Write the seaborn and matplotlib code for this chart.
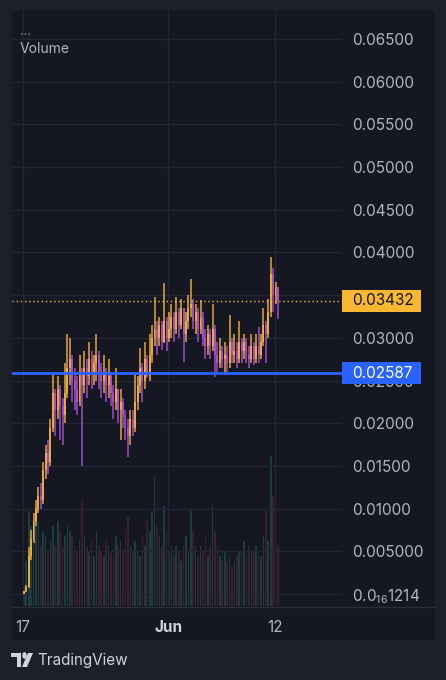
import numpy as np
import pandas as pd
import matplotlib
matplotlib.use("Agg")
import matplotlib.pyplot as plt
import matplotlib.dates as mdates
from matplotlib.patches import Rectangle, Polygon, Circle
from matplotlib.ticker import FixedLocator, FixedFormatter
import seaborn as sns

# 6h candles, prices in units of 0.001
close = [0.3, 0.8, 4.5, 6.5, 8.5, 10.0, 11.5, 11.0, 14.5, 16.5,
         15.5, 19.5, 23.5, 21.5, 24.0, 22.0, 21.0, 23.5, 26.5, 27.5,
         25.0, 24.0, 22.5, 26.0, 24.5, 26.5, 25.5, 27.5, 26.0, 27.0,
         28.0, 26.0, 25.0, 26.0, 24.5, 25.5, 23.5, 22.5, 24.0, 21.5,
         22.5, 21.0, 19.5, 18.5, 20.5, 19.5, 22.5, 24.5, 26.5, 25.0,
         27.5, 25.5, 28.0, 30.0, 31.0, 30.0, 31.5, 29.5, 32.0, 30.0,
         31.0, 32.5, 31.0, 33.0, 31.5, 33.5, 30.5, 32.0, 33.5, 34.0,
         32.0, 33.0, 31.0, 32.5, 30.0, 29.0, 30.5, 29.0, 31.0, 28.0,
         27.0, 28.5, 27.5, 28.0, 27.0, 29.5, 28.0, 28.5, 27.5, 29.5,
         28.5, 29.5, 28.0, 27.5, 29.0, 27.5, 29.0, 28.0, 29.5, 31.5,
         30.5, 33.0, 37.5, 35.0, 36.0, 34.32]
high = [0.4, 1.0, 5.5, 7.5, 9.5, 11.0, 12.5, 13.0, 15.5, 17.5,
        18.0, 20.5, 26.0, 24.0, 25.5, 24.5, 23.0, 27.0, 30.5, 30.0,
        28.0, 26.5, 25.5, 28.0, 26.5, 28.5, 27.5, 29.5, 28.5, 28.0,
        30.5, 28.5, 27.0, 28.0, 26.5, 27.5, 26.0, 24.5, 26.5, 24.0,
        24.0, 23.0, 21.5, 20.5, 21.5, 21.5, 26.0, 25.5, 28.8, 27.0,
        29.5, 28.0, 30.5, 31.5, 34.8, 32.0, 32.5, 32.0, 36.4, 32.5,
        33.0, 34.0, 33.0, 34.8, 33.5, 34.5, 33.5, 33.0, 35.0, 36.9,
        34.5, 34.0, 33.5, 34.4, 33.0, 31.0, 31.5, 31.0, 34.0, 31.5,
        29.5, 30.0, 29.0, 29.5, 29.0, 32.7, 30.0, 30.5, 29.5, 32.0,
        30.0, 30.5, 30.0, 29.0, 30.5, 29.5, 30.5, 31.3, 30.5, 33.5,
        32.0, 34.5, 39.5, 38.2, 36.5, 35.7]
low = [0.0, 0.2, 0.7, 4.0, 6.0, 8.0, 9.5, 10.0, 10.5, 13.5,
       14.0, 15.0, 19.0, 18.5, 20.5, 18.0, 17.5, 20.0, 23.0, 24.5,
       22.5, 21.5, 21.0, 22.0, 15.0, 23.5, 23.0, 24.5, 24.0, 24.5,
       25.0, 24.0, 23.0, 23.5, 22.5, 23.0, 22.0, 20.5, 21.5, 20.0,
       18.0, 19.5, 18.0, 16.0, 17.5, 18.5, 19.0, 21.5, 23.5, 22.5,
       24.0, 25.3, 25.0, 27.0, 29.0, 28.0, 29.0, 28.6, 29.4, 28.5,
       29.5, 30.0, 29.5, 30.5, 30.0, 31.0, 27.2, 29.5, 31.0, 32.5,
       31.0, 30.5, 29.5, 30.5, 29.0, 27.5, 28.0, 27.5, 28.5, 25.4,
       26.0, 26.5, 26.5, 25.6, 26.0, 26.5, 27.0, 27.0, 26.5, 27.0,
       27.0, 27.5, 27.0, 26.5, 27.0, 26.8, 27.0, 27.0, 27.5, 29.0,
       27.0, 30.0, 32.5, 33.0, 34.0, 32.2]
volume = [20, 45, 95, 80, 70, 100, 85, 60, 75, 70,
          55, 65, 80, 60, 85, 75, 60, 70, 80, 75,
          70, 60, 55, 65, 105, 70, 60, 55, 65, 50,
          75, 60, 55, 50, 65, 60, 55, 50, 70, 60,
          65, 55, 75, 90, 60, 55, 65, 55, 50, 70,
          60, 85, 75, 95, 130, 80, 70, 60, 100, 75,
          55, 60, 50, 60, 55, 45, 60, 70, 55, 95,
          75, 60, 50, 60, 55, 70, 50, 60, 100, 75,
          60, 50, 45, 55, 45, 50, 40, 45, 50, 55,
          55, 65, 50, 60, 55, 55, 60, 55, 50, 70,
          95, 65, 150, 110, 80, 60]

last_price = 0.03432
line_price = 0.02587
y_ticks = [0.0, 0.005, 0.01, 0.015, 0.02, 0.025, 0.03, 0.04, 0.045,
           0.05, 0.055, 0.06, 0.065]
y_labels = ["0.0$_{\\mathrm{16}}$1214", "0.005000", "0.01000", "0.01500", "0.02000",
            "0.02500", "0.03000", "0.04000", "0.04500", "0.05000",
            "0.05500", "0.06000", "0.06500"]
x_ticks = ["2024-05-17", "2024-06-01", "2024-06-12"]
x_labels = ["17", "Jun", "12"]

BG = "#1e2029"
PANEL = "#151823"
GRID = "#232733"
TXT = "#b2b5be"
UP = "#eeae3a"
DOWN = "#a950cf"

sns.set_theme(style="dark")
plt.rcParams["font.family"] = ["Inter", "DejaVu Sans"]
plt.rcParams["mathtext.fontset"] = "custom"
plt.rcParams["mathtext.rm"] = "Inter"

W, H = 446, 680
fig = plt.figure(figsize=(W / 100, H / 100), dpi=100, facecolor=BG)


def fx(px):
    return px / W


def fy(py):
    return 1 - py / H


# chart panel (behind the axes)
fig.patches.append(Rectangle((fx(12), fy(640)), fx(423), 630 / H, transform=fig.transFigure,
                             facecolor=PANEL, edgecolor="none", zorder=-5))
fig.lines.append(plt.Line2D([fx(12), fx(435)], [fy(606.5), fy(606.5)], transform=fig.transFigure,
                            color="#2a2e39", lw=1, zorder=-4))

o = np.array([0.0] + close[:-1]) / 1000
c = np.array(close) / 1000
h = np.array(high) / 1000
l = np.array(low) / 1000
t = pd.date_range("2024-05-17 02:00", periods=len(close), freq="6h")
x = mdates.date2num(t)
up = c >= o
day0 = mdates.date2num(pd.Timestamp("2024-05-17"))

pos = [fx(12), fy(606), fx(330), 596 / H]
axv = fig.add_axes(pos)
axv.patch.set_visible(False)
axv.bar(x, volume, width=0.17, color=np.where(up, "#1b3d3f", "#3b202c"), linewidth=0)
axv.set_ylim(0, 596)
axv.set_xlim(day0 - 1.14, day0 + 32.95)
axv.axis("off")

ax = fig.add_axes(pos)
ax.patch.set_visible(False)
ax.set_xlim(day0 - 1.14, day0 + 32.95)
ax.set_ylim(-0.001405, 0.0684)

ax.vlines(x, l, h, colors=np.where(up, UP, DOWN), lw=1.1, alpha=0.95, zorder=3)
body = np.maximum(np.abs(c - o), 0.0001)
ax.bar(x, body, bottom=np.minimum(o, c), width=0.2, color=np.where(up, UP, DOWN),
       alpha=0.92, linewidth=0, zorder=3)

ax.axhline(last_price, color="#f5b82e", lw=1, ls=(0, (1, 2)), zorder=4)
ax.axhline(line_price, color="#2962ff", lw=2, zorder=4)

ax.yaxis.tick_right()
ax.yaxis.set_major_locator(FixedLocator(y_ticks))
ax.yaxis.set_major_formatter(FixedFormatter(y_labels))
ax.xaxis.set_major_locator(FixedLocator(mdates.date2num(pd.to_datetime(x_ticks))))
ax.xaxis.set_major_formatter(FixedFormatter(x_labels))
ax.tick_params(axis="y", length=0, pad=7.5, labelsize=11, labelcolor=TXT)
ax.tick_params(axis="x", length=0, pad=10, labelsize=11, labelcolor=TXT)
for lab in ax.get_yticklabels():
    lab.set_horizontalalignment("left")
xl = ax.get_xticklabels()
xl[1].set_fontweight("bold")
xl[1].set_color("#d1d4dc")
ax.grid(True, color=GRID, lw=1)
# gridline for the hidden 0.035 level
ax.axhline(0.035, color=GRID, lw=1, zorder=0.5)
for s in ax.spines.values():
    s.set_visible(False)
sns.despine(ax=ax, left=True, bottom=True)

# price labels on the right scale
trans = ax.get_yaxis_transform()
box_h = 22 / 8538
for val, fc, tc in [(last_price, "#f7b731", "#131722"), (line_price, "#2962ff", "#ffffff")]:
    ax.add_patch(Rectangle((1.0, val - box_h / 2), 79 / 330, box_h, transform=trans,
                           facecolor=fc, edgecolor="none", clip_on=False, zorder=6))
    ax.text(1.0 + 10 / 330, val, f"{val:.5f}", transform=trans, ha="left", va="center",
            fontsize=11, color=tc, clip_on=False, zorder=7)

fig.text(fx(20), fy(32), "...", fontsize=9, color="#8a8d96", ha="left", va="center")
fig.text(fx(20), fy(49), "Volume", fontsize=10, color=TXT, ha="left", va="center")

# TradingView logo
tf = fig.transFigure
fig.patches.append(Polygon([(fx(11), fy(653)), (fx(21), fy(653)), (fx(21), fy(667)),
                            (fx(17), fy(667)), (fx(17), fy(657)), (fx(11), fy(657))],
                           transform=tf, facecolor="#d1d4dc", edgecolor="none"))
fig.patches.append(Circle((fx(24.5), fy(655.5)), 2.2 / W, transform=tf,
                          facecolor="#d1d4dc", edgecolor="none"))
fig.patches.append(Polygon([(fx(28), fy(653)), (fx(33), fy(653)), (fx(27), fy(667)),
                            (fx(22), fy(667))],
                           transform=tf, facecolor="#d1d4dc", edgecolor="none"))
fig.text(fx(37), fy(660), "TradingView", fontsize=11, color="#d1d4dc", ha="left", va="center")

fig.savefig("out.png", dpi=100, facecolor=BG)
